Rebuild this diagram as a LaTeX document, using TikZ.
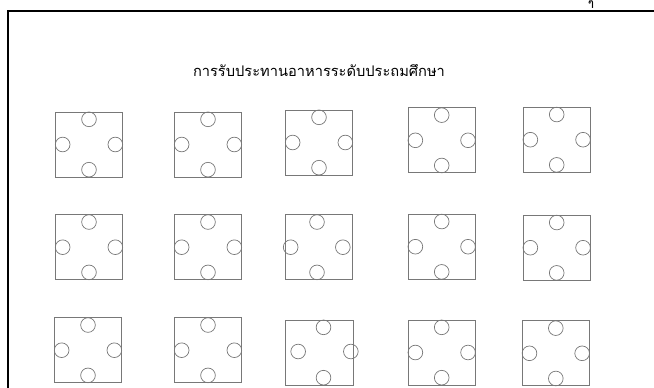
\documentclass[tikz,border=0pt]{standalone}
\usepackage{fontspec}
\newfontfamily\thaifont[Script=Thai]{Loma}
\usetikzlibrary{positioning,calc}
\definecolor{cline}{RGB}{120,120,120}

% one table with its four seats, all touching the edges from inside
\newcommand{\desk}[3]{%
  \node[desk] (#1) at (#2,#3) {};
  \node[seat,anchor=north] (#1n) at (#1.north) {};
  \node[seat,anchor=south] (#1s) at (#1.south) {};
  \node[seat,anchor=west]  (#1w) at (#1.west) {};
  \node[seat,anchor=east]  (#1e) at (#1.east) {};}

\begin{document}
\begin{tikzpicture}[x=0.03cm,y=-0.03cm,
  desk/.style={draw=cline,line width=0.6pt,minimum width=2.02cm,minimum height=1.95cm,inner sep=0pt},
  seat/.style={circle,draw=cline,line width=0.6pt,minimum size=0.44cm,inner sep=0pt},
  frame/.style={line width=2.2pt,black}]
\path[use as bounding box] (0,0) rectangle (654,387);
\clip (0,0) rectangle (654,387);
% ===================== frame =====================
\draw[frame] (8,400) -- (8,11) -- (670,11);
\node[font=\thaifont\bfseries\fontsize{9}{10}\selectfont,anchor=south,inner sep=0pt] (pageno) at (591,9) {ๆ};
\node[font=\thaifont\fontsize{12.5}{14}\selectfont] (title) at (319,71) {การรับประทานอาหารระดับประถมศึกษา};
% ===================== row 1 =====================
\desk{t11}{89}{144.5}
\desk{t12}{208}{144.5}
\desk{t13}{319}{142.5}
\desk{t14}{441.7}{140.3}
\desk{t15}{556.7}{139.7}
% ===================== row 2 =====================
\desk{t21}{89}{247.2}
\desk{t22}{208}{247.2}
% middle table: seats pulled a bit to the left
\node[desk] (t23) at (319,247.2) {};
\node[seat,anchor=north] (t23n) at ($(t23.north)+(-2,0)$) {};
\node[seat,anchor=south] (t23s) at ($(t23.south)+(-2,0)$) {};
\node[seat,anchor=west]  (t23w) at ($(t23.west)+(-2,0)$) {};
\node[seat,anchor=east]  (t23e) at ($(t23.east)+(-2.5,0)$) {};
\desk{t24}{441.7}{246.7}
\desk{t25}{556.7}{247.7}
% ===================== row 3 =====================
\desk{t31}{88}{350.2}
\desk{t32}{208}{350.2}
% middle table: seats pushed to the right
\node[desk] (t33) at (319.5,352.5) {};
\node[seat,anchor=north] (t33n) at ($(t33.north)+(4,0)$) {};
\node[seat,anchor=south] (t33s) at ($(t33.south)+(4,0)$) {};
\node[seat,anchor=west]  (t33w) at ($(t33.west)+(5,-1)$) {};
\node[seat,anchor=east]  (t33e) at ($(t33.east)+(5,-1)$) {};
\desk{t34}{441.7}{352.5}
\desk{t35}{555.8}{353.3}
\end{tikzpicture}
\end{document}
